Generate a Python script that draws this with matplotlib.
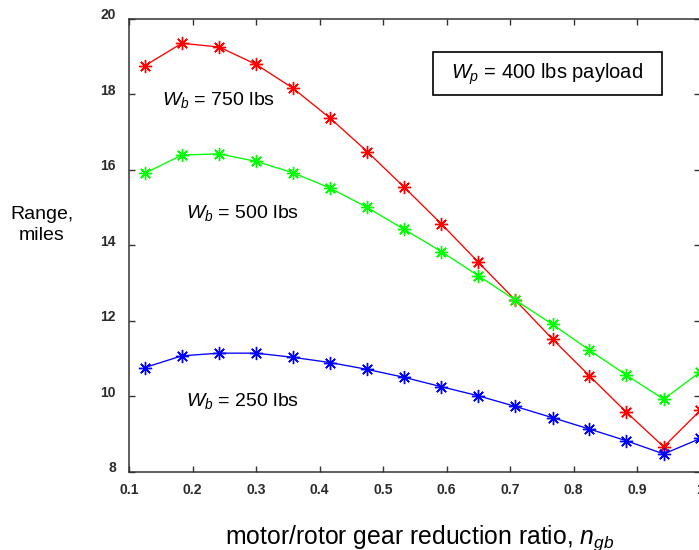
import numpy as np
import matplotlib.pyplot as plt
from matplotlib.patches import Rectangle
from matplotlib.transforms import ScaledTranslation

plt.rcParams['font.family'] = ['Liberation Sans', 'DejaVu Sans']
plt.rcParams['mathtext.fontset'] = 'custom'
plt.rcParams['mathtext.rm'] = 'Liberation Sans'
plt.rcParams['mathtext.it'] = 'Liberation Sans:italic'

## gear ratio sweep
n_gb = [0.125, 0.183, 0.242, 0.300, 0.358, 0.417, 0.475, 0.533,
        0.592, 0.650, 0.708, 0.767, 0.825, 0.883, 0.942, 1.000]

## range in miles for each battery weight
range_750 = [18.76, 19.35, 19.25, 18.79, 18.16, 17.36, 16.48, 15.54,
             14.56, 13.55, 12.55, 11.51, 10.54, 9.58, 8.66, 9.63]
range_500 = [15.91, 16.39, 16.42, 16.22, 15.92, 15.51, 15.00, 14.42,
             13.83, 13.19, 12.55, 11.90, 11.22, 10.56, 9.92, 10.65]
range_250 = [10.76, 11.07, 11.14, 11.14, 11.03, 10.89, 10.71, 10.50,
             10.25, 10.01, 9.73, 9.43, 9.13, 8.82, 8.47, 8.88]

xticks = [0.1, 0.2, 0.3, 0.4, 0.5, 0.6, 0.7, 0.8, 0.9, 1.0]
xtick_labels = ['0.1', '0.2', '0.3', '0.4', '0.5', '0.6', '0.7', '0.8', '0.9', '1']
yticks = [8, 10, 12, 14, 16, 18, 20]

fig = plt.figure(figsize=(6.99, 5.5), dpi=100)
ax = fig.add_axes([0.1848, 0.1424, 0.8173, 0.8235])

star = (8, 2, 0)
for y, c in [(range_750, '#ff0000'), (range_500, '#00ff00'), (range_250, '#0000ff')]:
    ax.plot(n_gb, y, color=c, lw=0.95, marker=star, ms=9.5, mew=1.0)

ax.set_xlim(0.1, 1.0)
ax.set_ylim(8, 20)
ax.set_xticks(xticks)
ax.set_xticklabels(xtick_labels)
ax.set_yticks(yticks)
ax.tick_params(direction='in', length=4, width=1, top=True, right=True,
               labelsize=10, labelcolor='#2a2a2a', color='#333333')
for lab in ax.get_xticklabels() + ax.get_yticklabels():
    lab.set_fontweight('bold')
ax.tick_params(axis='x', pad=8)
ax.tick_params(axis='y', pad=9.5)
for lab in ax.get_yticklabels():
    lab.set_transform(lab.get_transform() + ScaledTranslation(0, 3.5 / 72, fig.dpi_scale_trans))
for sp in ax.spines.values():
    sp.set_color('#333333')
    sp.set_linewidth(1.1)

ax.text(0.1517, 17.85, r'$W_b$ = 750 lbs', fontsize=14, va='center')
ax.text(0.1895, 14.85, r'$W_b$ = 500 lbs', fontsize=14, va='center')
ax.text(0.1895, 9.87, r'$W_b$ = 250 lbs', fontsize=14, va='center')

# payload note in a plain frame
ax.add_patch(Rectangle((0.5318, 0.8317), 0.4008, 0.095, transform=ax.transAxes,
                       fc='white', ec='black', lw=1.2, zorder=3))
ax.text(0.7322, 0.878, r'$W_p$ = 400 lbs payload', transform=ax.transAxes,
        fontsize=14.5, ha='center', va='center', zorder=4)

fig.text(42 / 699, 1 - 225 / 550, 'Range,\nmiles', fontsize=14, ha='center', va='center',
         linespacing=1.25)
fig.text(420 / 699, 1 - 544 / 550, r'motor/rotor gear reduction ratio, $n_{gb}$',
         fontsize=17.8, ha='center', va='baseline')

fig.savefig('out.png', dpi=100)
